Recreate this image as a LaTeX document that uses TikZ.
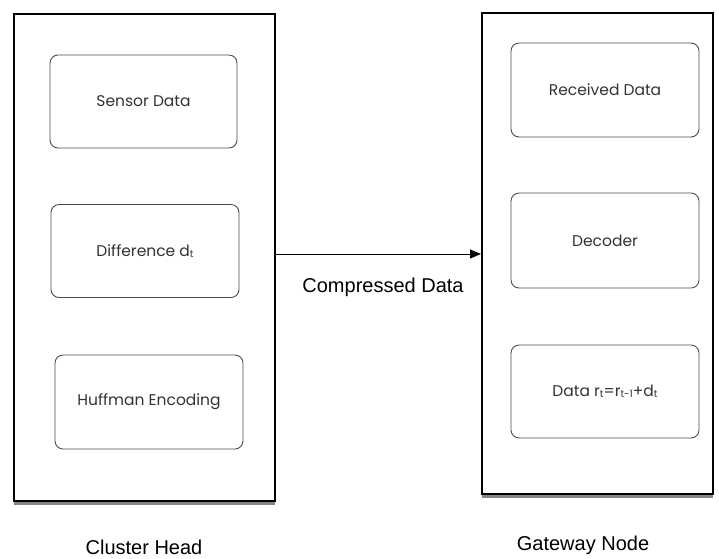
\documentclass[tikz,border=0pt]{standalone}
\usepackage{fontspec}
\setmainfont{Liberation Sans}
\newfontfamily\gothic{Poppins}
\usetikzlibrary{shadows,arrows.meta}
\newcommand\subt[1]{\raisebox{-1pt}{\fontsize{10}{11}\selectfont #1}}
\begin{document}
\begin{tikzpicture}[x=1pt,y=-1pt,
  container/.style={draw=black, line width=1.6pt, fill=white,
    drop shadow={shadow xshift=0pt, shadow yshift=-4pt, opacity=0.6, fill=black!80}},
  inner/.style={draw=black!70, line width=0.9pt, rounded corners=8pt, fill=white,
    font=\gothic\fontsize{15.5}{18}\selectfont, text=black!80},
  caption/.style={font=\fontsize{20}{24}\selectfont}]
\useasboundingbox (0,0) rectangle (719,558);
% containers
\node[container, minimum width=261pt, minimum height=487pt, anchor=north west, inner sep=0pt] (ch) at (13,13) {};
\node[container, minimum width=231pt, minimum height=481pt, anchor=north west, inner sep=0pt] (gw) at (481,12) {};
% left inner boxes
\node[inner, minimum width=187pt, minimum height=93pt] (sd) at (143.5,101.5) {Sensor Data};
\node[inner, minimum width=188pt, minimum height=93pt] (df) at (145,251) {Difference d\subt{t}};
\node[inner, minimum width=188pt, minimum height=94pt] (hf) at (149,402) {Huffman Encoding};
% right inner boxes
\node[inner, minimum width=188pt, minimum height=94pt] (rd) at (605,90) {Received Data};
\node[inner, minimum width=188pt, minimum height=95pt] (dc) at (605,240.5) {Decoder};
\node[inner, minimum width=188pt, minimum height=93pt] (dr) at (605,391.5) {Data r\subt{t}=r\subt{t-1}+d\subt{t}};
% arrow
\coordinate (a1) at (274,254);
\coordinate (a2) at (481,254);
\draw[line width=1pt, -{Triangle[length=11pt,width=9pt]}] (a1) -- (a2);
\node[caption] (cd) at (383,287) {Compressed Data};
% captions
\node[caption] (chl) at (144,547) {Cluster Head};
\node[caption] (gwl) at (583,545) {Gateway Node};
\end{tikzpicture}
\end{document}
